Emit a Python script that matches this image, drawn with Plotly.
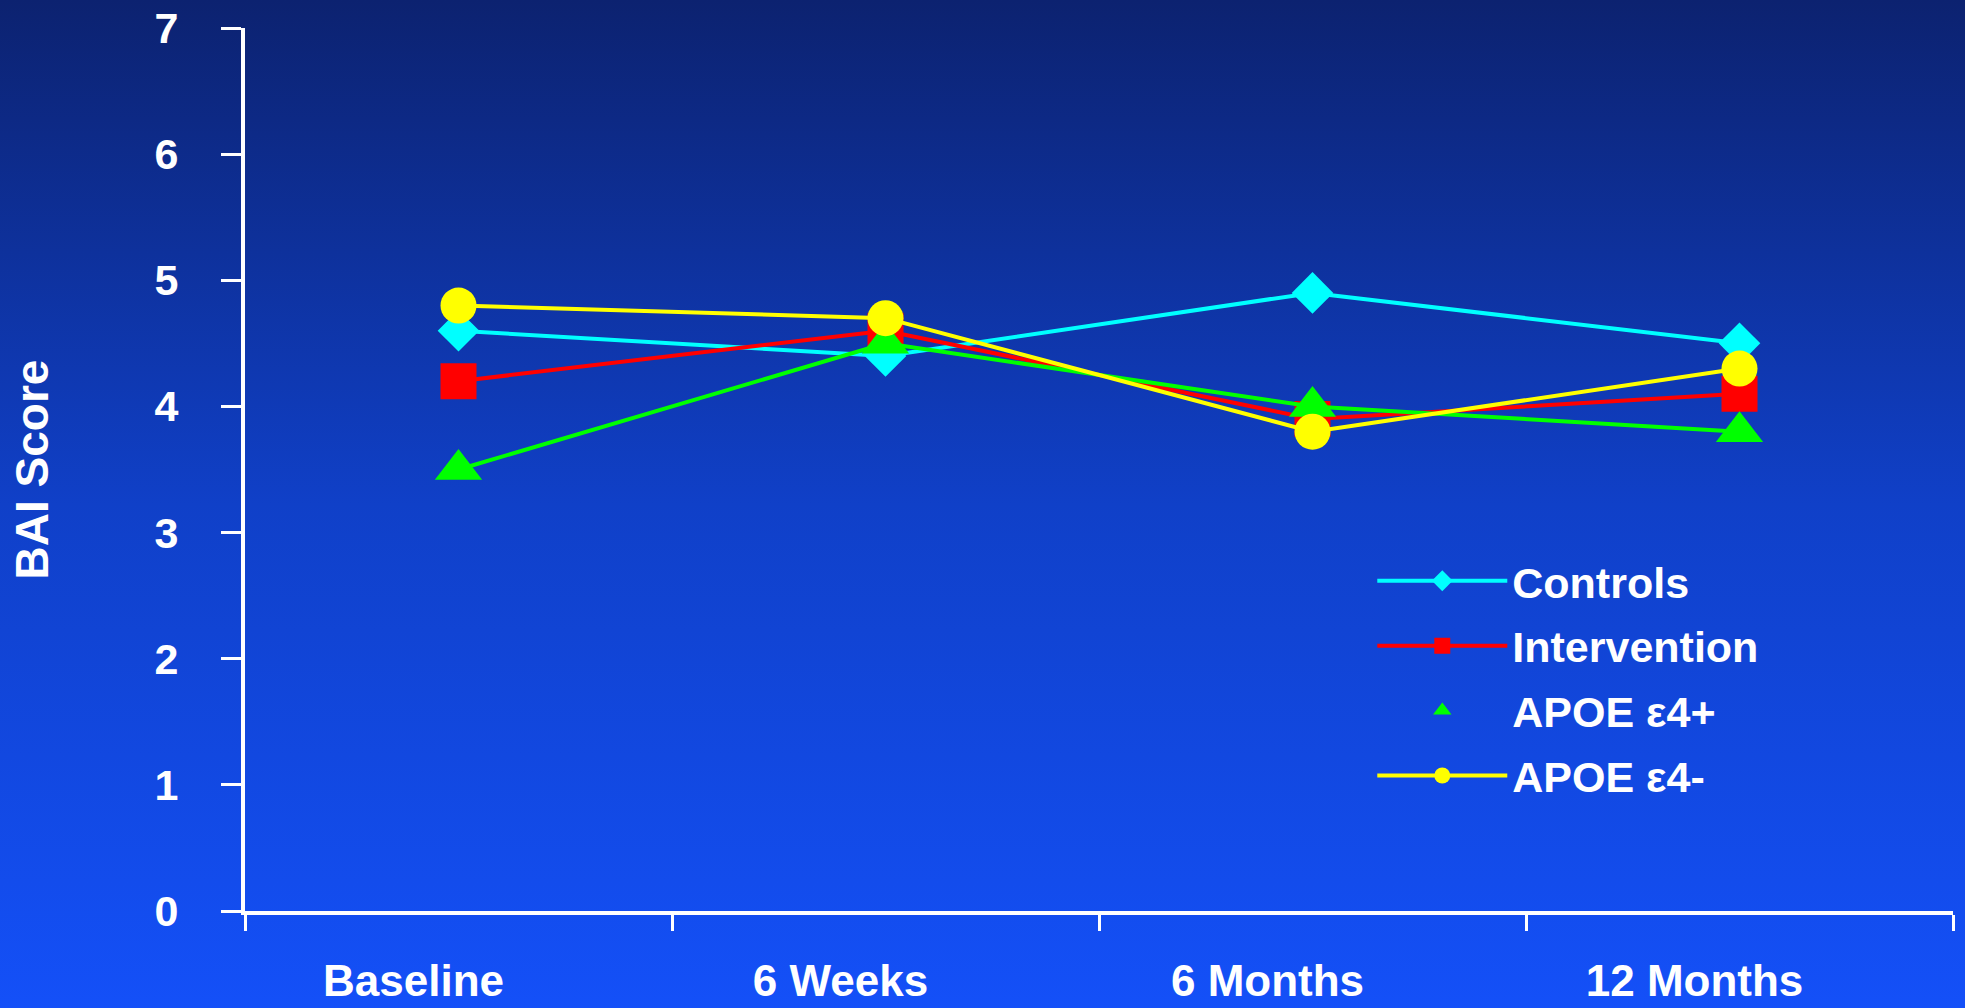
import urllib.parse
import plotly.graph_objects as go

categories = ["Baseline", "6 Weeks", "6 Months", "12 Months"]
controls = [4.6, 4.4, 4.9, 4.5]
intervention = [4.2, 4.6, 3.9, 4.1]
apoe_pos = [3.5, 4.5, 4.0, 3.8]
apoe_neg = [4.8, 4.7, 3.8, 4.3]
y_ticks = [0, 1, 2, 3, 4, 5, 6, 7]

FONT = "Liberation Sans, Arial, sans-serif"
W, H = 1965, 1008
ML, MR, MT, MB = 245, 12, 28, 97

fig = go.Figure()

fig.add_trace(go.Scatter(
    x=categories, y=controls, name="Controls", mode="lines+markers",
    line=dict(color="#00FFFF", width=4),
    marker=dict(symbol="diamond", size=32, color="#00FFFF"),
    legendgroup="a"))
fig.add_trace(go.Scatter(
    x=categories, y=intervention, name="Intervention", mode="lines+markers",
    line=dict(color="#FF0000", width=4),
    marker=dict(symbol="square", size=36, color="#FF0000"),
    legendgroup="b"))
fig.add_trace(go.Scatter(
    x=categories, y=apoe_pos, name="APOE ε4+", mode="lines+markers",
    line=dict(color="#00FF00", width=4),
    marker=dict(symbol="triangle-up", size=41, color="#00FF00"),
    showlegend=False, legendgroup="c"))
fig.add_trace(go.Scatter(
    x=[None], y=[None], name="APOE ε4+", mode="markers",
    marker=dict(symbol="triangle-up", size=41, color="#00FF00"),
    legendgroup="c"))
fig.add_trace(go.Scatter(
    x=categories, y=apoe_neg, name="APOE ε4-", mode="lines+markers",
    line=dict(color="#FFFF00", width=4),
    marker=dict(symbol="circle", size=36, color="#FFFF00"),
    legendgroup="d"))

# gradient background via inline SVG
svg = ("<svg xmlns='http://www.w3.org/2000/svg' width='100' height='100' preserveAspectRatio='none'>"
       "<defs><linearGradient id='g' x1='0' y1='0' x2='0' y2='1'>"
       "<stop offset='0' stop-color='#0c2270'/>"
       "<stop offset='0.5' stop-color='#1040c8'/>"
       "<stop offset='1' stop-color='#1450f8'/>"
       "</linearGradient></defs><rect width='100' height='100' fill='url(#g)'/></svg>")
src = "data:image/svg+xml;charset=utf-8," + urllib.parse.quote(svg)

pw = W - ML - MR
ph = H - MT - MB
x0 = -ML / pw
x1 = (W - ML) / pw
ytop = 1 + MT / ph
ybot = -MB / ph

fig.update_layout(
    width=W, height=H,
    margin=dict(l=ML, r=MR, t=MT, b=MB, autoexpand=False),
    paper_bgcolor="#1040c8",
    plot_bgcolor="rgba(0,0,0,0)",
    font=dict(family=FONT, color="white", size=44, weight="bold"),
    images=[dict(source=src, xref="paper", yref="paper", x=x0, y=ytop,
                 sizex=x1 - x0, sizey=ytop - ybot, sizing="stretch",
                 xanchor="left", yanchor="top", layer="below")],
    showlegend=True,
    legend=dict(x=0.66, y=0.413, xanchor="left", yanchor="top",
                bgcolor="rgba(0,0,0,0)", tracegroupgap=6,
                itemwidth=130,
                font=dict(family=FONT, size=43, color="white", weight="bold")),
    xaxis=dict(
        type="category", categoryorder="array", categoryarray=categories,
        range=[-0.5, 3.5], tickson="boundaries",
        showline=True, linecolor="white", linewidth=4,
        ticks="outside", ticklen=16, tickwidth=3, tickcolor="white",
        showgrid=False, zeroline=False,
        ticklabelstandoff=28, ticklabelshift=-45,
        tickfont=dict(family=FONT, size=44, color="white", weight="bold")),
    yaxis=dict(
        range=[0, 7], tickvals=y_ticks,
        showline=True, linecolor="white", linewidth=4,
        ticks="outside", ticklen=20, tickwidth=3, tickcolor="white",
        showgrid=False, zeroline=False,
        ticklabelstandoff=34,
        tickfont=dict(family=FONT, size=43, color="white", weight="bold")),
)
fig.update_yaxes(title=dict(text="BAI Score", standoff=92,
                            font=dict(family=FONT, size=46, color="white", weight="bold")))

fig.write_html("out.html",
               config={"displayModeBar": False},
               post_script="document.body.style.margin='0px';document.body.style.overflow='hidden';")
